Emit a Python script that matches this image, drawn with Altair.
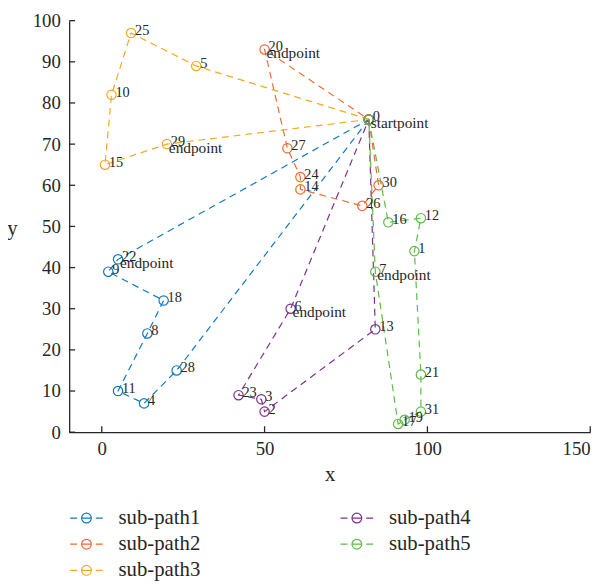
import altair as alt
import pandas as pd

# ---- data ----
node_x = [82, 96, 50, 49, 13, 29, 58, 84, 14, 2, 3, 5, 98, 84, 61, 1,
          88, 91, 19, 93, 50, 98, 5, 42, 61, 9, 80, 57, 23, 20, 85, 98]
node_y = [76, 44, 5, 8, 7, 89, 30, 39, 24, 39, 82, 10, 52, 25, 59, 65,
          51, 2, 32, 3, 93, 14, 42, 9, 62, 97, 55, 69, 15, 70, 60, 5]

path_names = ["sub-path1", "sub-path2", "sub-path3", "sub-path4", "sub-path5"]
path_colors = ["#0F78C6", "#EE6A35", "#F7A823", "#7E2F8E", "#5DBB46"]
path_routes = [
    [0, 28, 4, 11, 8, 18, 9, 22, 0],
    [0, 30, 26, 14, 24, 27, 20, 0],
    [0, 5, 25, 10, 15, 29, 0],
    [0, 13, 2, 3, 23, 6, 0],
    [0, 16, 12, 1, 21, 31, 19, 17, 7, 0],
]
x_ticks = [0, 50, 100, 150]
y_ticks = [0, 10, 20, 30, 40, 50, 60, 70, 80, 90, 100]
start_word = "startpoint"
end_word = "endpoint"

# ---- tables ----
route_rows, point_rows = [], []
for name, route in zip(path_names, path_routes):
    for i, n in enumerate(route):
        r = {"path": name, "seq": i, "node": n, "x": node_x[n], "y": node_y[n]}
        route_rows.append(r)
        if i < len(route) - 1:
            point_rows.append(r)
route_df = pd.DataFrame(route_rows)
point_df = pd.DataFrame(point_rows)

num_df = pd.DataFrame({"x": node_x, "y": node_y,
                       "label": [str(i) for i in range(len(node_x))]})
word_rows = [{"x": node_x[0], "y": node_y[0], "label": start_word}]
for route in path_routes:
    e = route[-2]
    word_rows.append({"x": node_x[e], "y": node_y[e], "label": end_word})
word_df = pd.DataFrame(word_rows)

FONT = "Liberation Serif"
AX = "#262626"
W, H = 528, 417

X = alt.X("x:Q", scale=alt.Scale(domain=[-10, 150], nice=False, zero=False),
          axis=alt.Axis(values=x_ticks, ticks=False, grid=False, domainColor=AX,
                        domainWidth=1.3, labelFont=FONT, labelFontSize=19,
                        labelColor=AX, labelPadding=8, title="x", titleFont=FONT,
                        titleFontSize=21, titleFontWeight="normal", titleColor=AX,
                        titleY=43, titleBaseline="middle"))
Y = alt.Y("y:Q", scale=alt.Scale(domain=[0, 100], nice=False, zero=False),
          axis=alt.Axis(values=y_ticks, ticks=False, grid=False, domainColor=AX,
                        domainWidth=1.3, labelFont=FONT, labelFontSize=19,
                        labelColor=AX, labelPadding=9, title="y", titleFont=FONT,
                        titleFontSize=21, titleFontWeight="normal", titleColor=AX,
                        titleAngle=0, titleX=-58, titleY=211, titleAlign="center",
                        titleBaseline="middle"))
cscale = alt.Scale(domain=path_names, range=path_colors)

sym = ("M-1.5,0L-0.86,0M-0.45,0L0.45,0M0.86,0L1.5,0"
       "M0.45,0A0.45,0.45,0,1,1,-0.45,0A0.45,0.45,0,1,1,0.45,0")

lines = alt.Chart(route_df).mark_line(strokeDash=[7, 5], strokeWidth=1.2).encode(
    x=X, y=Y, color=alt.Color("path:N", scale=cscale, legend=None), order="seq:Q")

points = alt.Chart(point_df).mark_point(filled=False, size=90, strokeWidth=1.2,
                                        opacity=1).encode(
    x=X, y=Y,
    color=alt.Color("path:N", scale=cscale,
                    legend=alt.Legend(title=None, orient="none", legendX=5.5,
                                      legendY=492, columns=2, columnPadding=139,
                                      rowPadding=4.5, symbolType=sym, symbolSize=484,
                                      symbolStrokeWidth=1.2, labelFont=FONT,
                                      labelFontSize=21, labelOffset=20.5,
                                      labelColor=AX, padding=0)))

nums = alt.Chart(num_df).mark_text(align="left", baseline="middle", dx=4, dy=-2,
                                   font=FONT, fontSize=14.5, color=AX).encode(
    x=X, y=Y, text="label:N")
words = alt.Chart(word_df).mark_text(align="left", baseline="middle", dx=2, dy=3.5,
                                     font=FONT, fontSize=15.5, color=AX).encode(
    x=X, y=Y, text="label:N")

xt = alt.Chart(pd.DataFrame({"x": x_ticks})).mark_rule(color=AX, strokeWidth=1.3).encode(
    x=X, y=alt.value(H), y2=alt.value(H - 6))
yt = alt.Chart(pd.DataFrame({"y": y_ticks})).mark_rule(color=AX, strokeWidth=1.3).encode(
    y=Y, x=alt.value(0), x2=alt.value(6))

chart = alt.layer(lines, points, nums, words, xt, yt).resolve_legend(
    color="independent"
).properties(
    width=W, height=H,
    autosize=alt.AutoSizeParams(type="none"),
    padding={"left": 62, "top": 9, "right": 18, "bottom": 150},
).configure_view(stroke=None)

chart.save("out.html", embed_options={"renderer": "svg", "actions": False})
